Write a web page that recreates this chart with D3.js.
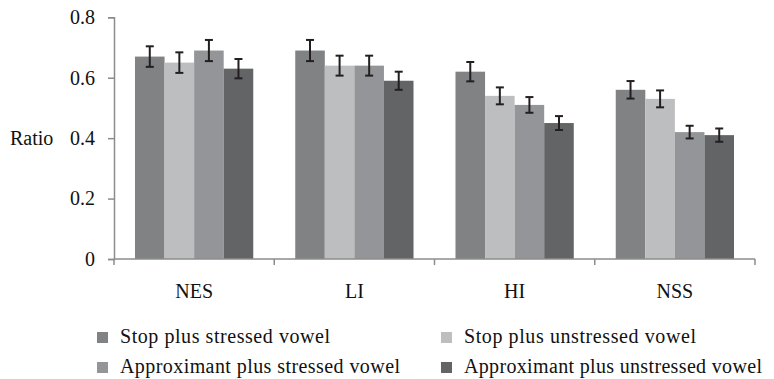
<!DOCTYPE html>
<html>
<head>
<meta charset="utf-8">
<script src="https://cdn.jsdelivr.net/npm/d3@7"></script>
</head>
<body style="margin:0;padding:0;background:#fff">
<svg id="chart" width="774" height="379" style="display:block"></svg>
<script>
// Groups along the x axis
const groups = ["NES", "LI", "HI", "NSS"];

// Conditions (one bar per condition inside each group)
const conditions = [
  "Stop plus stressed vowel",
  "Stop plus unstressed vowel",
  "Approximant plus stressed vowel",
  "Approximant plus unstressed vowel"
];

// Mean ratio per condition, one entry per group (NES, LI, HI, NSS)
const stopStressed        = [0.67, 0.69, 0.62, 0.56];
const stopUnstressed      = [0.65, 0.64, 0.54, 0.53];
const approxStressed      = [0.69, 0.64, 0.51, 0.42];
const approxUnstressed    = [0.63, 0.59, 0.45, 0.41];

// Error bar half-widths, same layout
const errStopStressed     = [0.034, 0.035, 0.032, 0.029];
const errStopUnstressed   = [0.034, 0.033, 0.028, 0.028];
const errApproxStressed   = [0.035, 0.033, 0.026, 0.021];
const errApproxUnstressed = [0.032, 0.030, 0.023, 0.022];

const yTicks = [0, 0.2, 0.4, 0.6, 0.8];

const seriesValues = [stopStressed, stopUnstressed, approxStressed, approxUnstressed];
const seriesErrors = [errStopStressed, errStopUnstressed, errApproxStressed, errApproxUnstressed];
const colors = ["#818284", "#bdbec0", "#939598", "#636466"];

const FONT = '"Liberation Serif", "Times New Roman", serif';
const styleText = sel => sel
  .style("font-family", FONT)
  .style("font-size", "20px")
  .attr("fill", "#111");

const svg = d3.select("#chart");
const plot = { left: 114, right: 755, top: 17.3, bottom: 259 };

const x0 = d3.scaleBand()
  .domain(groups)
  .range([plot.left, plot.right])
  .paddingInner(0.262)
  .paddingOuter(0.131);

const x1 = d3.scaleBand()
  .domain(d3.range(conditions.length))
  .range([0, x0.bandwidth()]);

const y = d3.scaleLinear().domain([0, 0.8]).range([plot.bottom, plot.top]);

// Flattened records for drawing
const records = [];
groups.forEach((g, gi) => {
  conditions.forEach((c, ci) => {
    records.push({ group: g, ci, value: seriesValues[ci][gi], err: seriesErrors[ci][gi] });
  });
});

// Bars
svg.append("g")
  .selectAll("rect")
  .data(records)
  .join("rect")
  .attr("x", d => x0(d.group) + x1(d.ci))
  .attr("y", d => y(d.value))
  .attr("width", x1.bandwidth())
  .attr("height", d => y(0) - y(d.value))
  .attr("fill", d => colors[d.ci]);

// Error bars
const eb = svg.append("g")
  .attr("stroke", "#231f20")
  .attr("stroke-width", 2);
records.forEach(d => {
  const cx = x0(d.group) + x1(d.ci) + x1.bandwidth() / 2;
  const yt = y(d.value + d.err), yb = y(d.value - d.err);
  eb.append("line").attr("x1", cx).attr("x2", cx).attr("y1", yt).attr("y2", yb);
  eb.append("line").attr("x1", cx - 4).attr("x2", cx + 4).attr("y1", yt).attr("y2", yt);
  eb.append("line").attr("x1", cx - 4).attr("x2", cx + 4).attr("y1", yb).attr("y2", yb);
});

// Y axis
const yAxis = svg.append("g")
  .attr("transform", `translate(${plot.left},0)`)
  .call(d3.axisLeft(y).tickValues(yTicks).tickFormat(d => d === 0 ? "0" : d3.format(".1f")(d)).tickSize(6).tickPadding(13));
yAxis.select(".domain").attr("stroke", "#8c8c8c").attr("stroke-width", 1.5);
yAxis.selectAll(".tick line").attr("stroke", "#8c8c8c").attr("stroke-width", 1.5);
yAxis.selectAll(".tick text").call(styleText);

// X axis: baseline with ticks at group boundaries
const boundaries = d3.range(groups.length + 1).map(i => plot.left + i * x0.step());
const xg = svg.append("g");
xg.append("line")
  .attr("x1", plot.left).attr("x2", plot.right)
  .attr("y1", y(0)).attr("y2", y(0))
  .attr("stroke", "#8c8c8c").attr("stroke-width", 1.5);
xg.selectAll("line.bt")
  .data(boundaries)
  .join("line")
  .attr("class", "bt")
  .attr("x1", d => d).attr("x2", d => d)
  .attr("y1", y(0)).attr("y2", y(0) + 6)
  .attr("stroke", "#8c8c8c").attr("stroke-width", 1.5);
xg.selectAll("text")
  .data(groups)
  .join("text")
  .attr("x", d => x0(d) + x0.bandwidth() / 2)
  .attr("y", 298)
  .attr("text-anchor", "middle")
  .call(styleText)
  .text(d => d);

// Y axis title
svg.append("text")
  .attr("x", 10)
  .attr("y", y(0.4) + 7)
  .call(styleText)
  .text("Ratio");

// Legend, two columns by two rows
const legendPos = [
  { x: 97, y: 332, w: 210 }, { x: 441, y: 332, w: 232 },
  { x: 97, y: 362, w: 280 }, { x: 441, y: 362, w: 298 }
];
const lg = svg.append("g");
conditions.forEach((c, i) => {
  const p = legendPos[i];
  lg.append("rect").attr("x", p.x).attr("y", p.y).attr("width", 11).attr("height", 11).attr("fill", colors[i]);
  lg.append("text")
    .attr("x", p.x + 23)
    .attr("y", p.y + 11)
    .call(styleText)
    .attr("textLength", p.w)
    .attr("lengthAdjust", "spacing")
    .text(c);
});
</script>
</body>
</html>
